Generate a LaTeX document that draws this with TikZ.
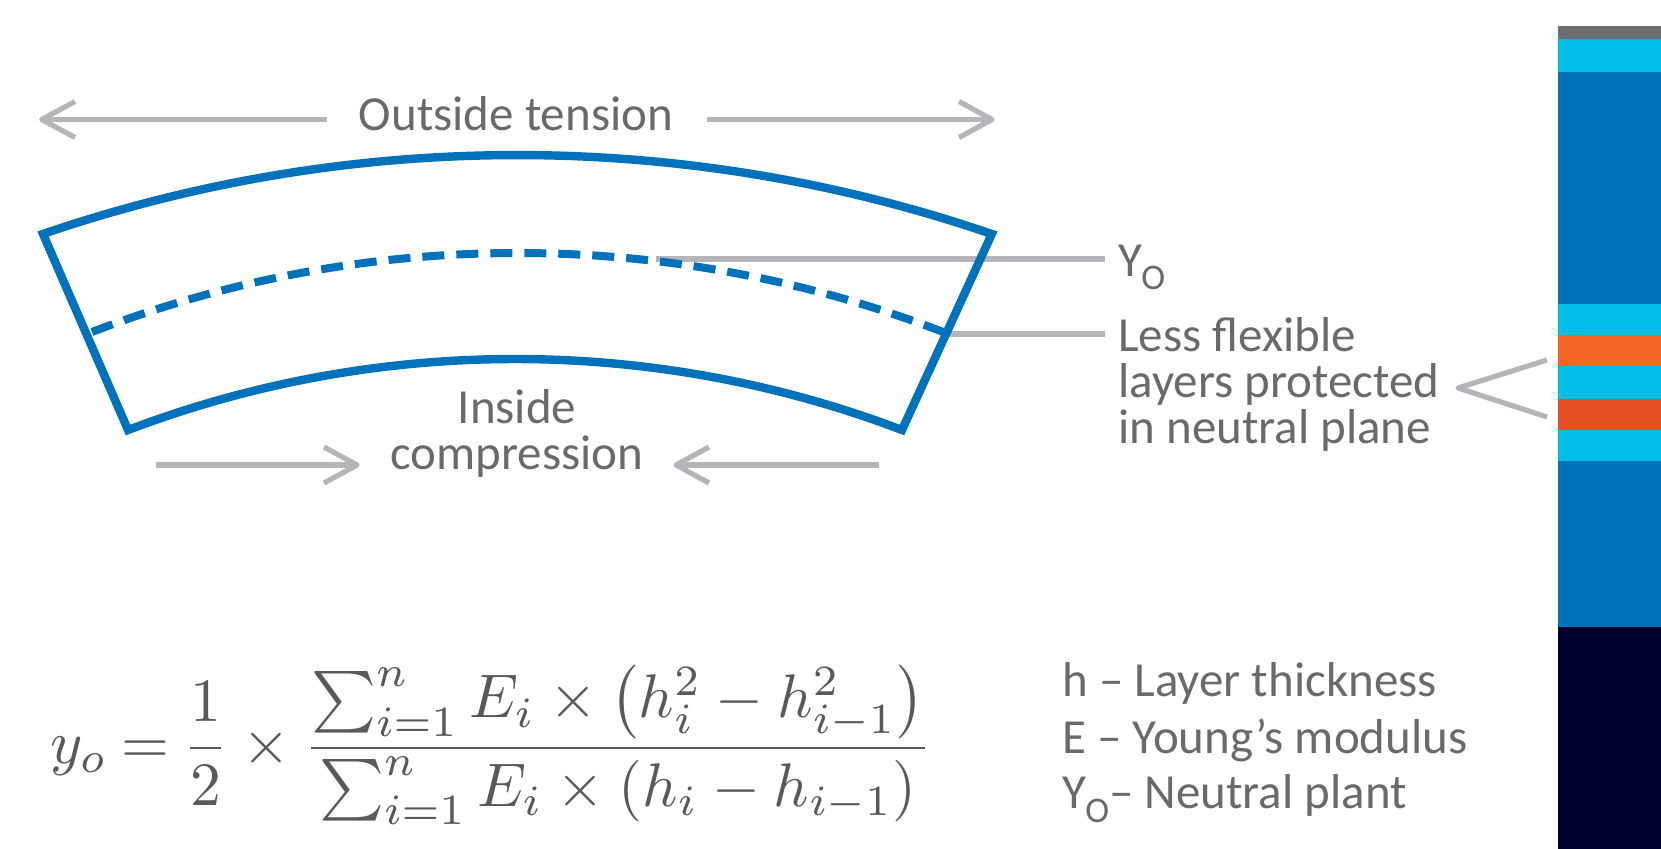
\documentclass[tikz,border=0pt]{standalone}
\usepackage{fontspec}
\setmainfont{Carlito}
\usepackage{amsmath}
\usepackage{graphicx}
\definecolor{shapeblue}{RGB}{0,114,188}
\definecolor{stcyan}{RGB}{0,189,231}
\definecolor{storange}{RGB}{242,101,34}
\definecolor{stred}{RGB}{230,78,36}
\definecolor{stgray}{RGB}{109,110,113}
\definecolor{stnavy}{RGB}{0,0,46}
\definecolor{textgray}{RGB}{105,106,110}
\definecolor{arrowgray}{RGB}{180,181,184}
\definecolor{mathgray}{RGB}{88,89,91}
\newcommand\YOsub{Y\kern-0.02em\raisebox{-6.5pt}{\fontsize{18}{18}\selectfont O}}
\tikzset{
  lbl/.style={font=\fontsize{24.5}{28}\selectfont, text=textgray, inner sep=0pt},
  grayline/.style={draw=arrowgray, line width=2.6pt, line join=round},
  blueline/.style={draw=shapeblue, line width=4.2pt, line join=miter}
}
\begin{document}
\begin{tikzpicture}[x=0.5pt,y=-0.5pt]
\useasboundingbox (0,0) rectangle (1661,849);
% ---------- right stripe ----------
\fill[stgray]   (1558,26)  rectangle (1661,39);
\fill[stcyan]   (1558,39)  rectangle (1661,72);
\fill[shapeblue](1558,72)  rectangle (1661,304);
\fill[stcyan]   (1558,304) rectangle (1661,335);
\fill[storange] (1558,335) rectangle (1661,366);
\fill[stcyan]   (1558,366) rectangle (1661,399);
\fill[stred]    (1558,399) rectangle (1661,430);
\fill[stcyan]   (1558,430) rectangle (1661,461);
\fill[shapeblue](1558,461) rectangle (1661,627);
\fill[stnavy]   (1558,627) rectangle (1661,849);
% ---------- leader lines ----------
\coordinate (yoA) at (656,259);
\coordinate (yoB) at (1105,259);
\coordinate (lfA) at (946,334);
\coordinate (lfB) at (1105,334);
\draw[grayline] (yoA) -- (yoB);
\draw[grayline] (lfA) -- (lfB);
% ---------- bent shape ----------
\coordinate (TL) at (43,234);
\coordinate (TR) at (992,234);
\coordinate (BL) at (128,430);
\coordinate (BR) at (902,430);
\draw[blueline] (TL) arc[start angle=-108.90, end angle=-71.10, radius=1464.6]
   -- (BR) arc[start angle=-69.21, end angle=-110.79, radius=1090.3] -- cycle;
\coordinate (DL) at (92,332);
\draw[draw=shapeblue, line width=4pt, dash pattern=on 11pt off 6pt]
   (DL) arc[start angle=-111.04, end angle=-68.96, radius=1185.4];
% ---------- outside tension ----------
\node[lbl, anchor=base] (outside) at (516,131) {Outside tension};
\coordinate (otL) at (41.7,119.5);
\coordinate (otLe) at (327,119.5);
\coordinate (otR) at (992,119.5);
\coordinate (otRs) at (707,119.5);
\draw[grayline] (otLe) -- (otL);
\draw[grayline] (75,101.5) -- (otL) -- (75,137.5);
\draw[grayline] (otRs) -- (otR);
\draw[grayline] (959,101.5) -- (otR) -- (959,137.5);
% ---------- inside compression ----------
\node[lbl, anchor=base] (inside) at (517,424) {Inside};
\node[lbl, anchor=base] (compr) at (517,470) {compression};
\coordinate (icL) at (156,465);
\coordinate (icLt) at (357,465);
\coordinate (icR) at (879,465);
\coordinate (icRt) at (676,465);
\draw[grayline] (icL) -- (icLt);
\draw[grayline] (324,447) -- (icLt) -- (324,483);
\draw[grayline] (icR) -- (icRt);
\draw[grayline] (709,447) -- (icRt) -- (709,483);
% ---------- right labels ----------
\node[lbl, anchor=base west] (yo) at (1118,277) {\YOsub};
\node[lbl, anchor=base west] (lf1) at (1118,352) {Less flexible};
\node[lbl, anchor=base west] (lf2) at (1118,398) {layers protected};
\node[lbl, anchor=base west] (lf3) at (1118,444) {in neutral plane};
\coordinate (chTip) at (1458,388);
\draw[grayline] (1547,360) -- (chTip) -- (1547,417);
% ---------- formula ----------
\node[anchor=west, inner sep=0pt, outer sep=0pt, text=mathgray] (formula) at (50,745)
 {\resizebox{441pt}{!}{\thickmuskip=4mu$\displaystyle y_o = \frac{1}{2}\times
   \frac{\textstyle\sum_{i=1}^{n} E_i \times \left(h_i^2 - h_{i-1}^2\right)}
        {\textstyle\sum_{i=1}^{n} E_i \times \left(h_i - h_{i-1}\right)}$}};
% ---------- legend ----------
\node[lbl, anchor=base west] (lgh) at (1062,697) {h – Layer thickness};
\node[lbl, anchor=base west] (lge) at (1062,754) {E – Young’s modulus};
\node[lbl, anchor=base west] (lgy) at (1062,809) {\YOsub– Neutral plant};
\end{tikzpicture}
\end{document}
